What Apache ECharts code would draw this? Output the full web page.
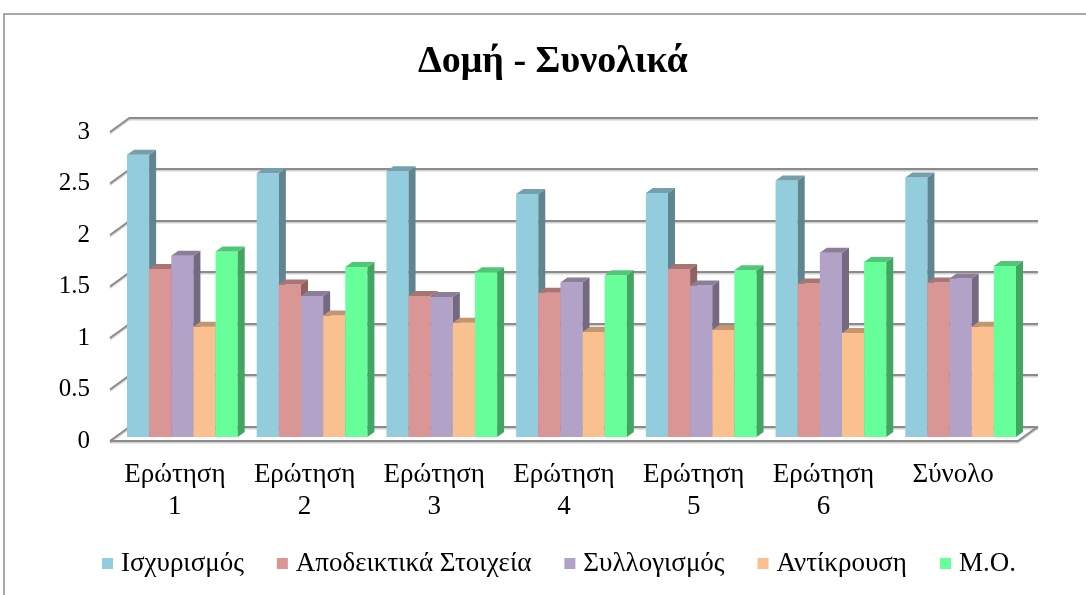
<!DOCTYPE html>
<html>
<head>
<meta charset="utf-8">
<script src="https://cdn.jsdelivr.net/npm/echarts@6/dist/echarts.min.js"></script>
<style>
  html, body { margin: 0; padding: 0; background: #fff; }
  #chart { width: 1086px; height: 595px; }
</style>
</head>
<body>
<div id="chart"></div>
<script>
// Categories and series values
const categories = ['Ερώτηση\n1', 'Ερώτηση\n2', 'Ερώτηση\n3', 'Ερώτηση\n4', 'Ερώτηση\n5', 'Ερώτηση\n6', 'Σύνολο'];
const seriesNames = ['Ισχυρισμός', 'Αποδεικτικά Στοιχεία', 'Συλλογισμός', 'Αντίκρουση', 'Μ.Ο.'];
const claim     = [2.74, 2.56, 2.58, 2.36, 2.37, 2.49, 2.52];
const evidence  = [1.63, 1.48, 1.37, 1.40, 1.63, 1.49, 1.50];
const reasoning = [1.76, 1.37, 1.36, 1.50, 1.47, 1.79, 1.54];
const rebuttal  = [1.07, 1.18, 1.11, 1.02, 1.04, 1.01, 1.07];
const average   = [1.80, 1.65, 1.60, 1.57, 1.62, 1.70, 1.66];
const yTicks    = [0, 0.5, 1, 1.5, 2, 2.5, 3];

const seriesValues = [claim, evidence, reasoning, rebuttal, average];
const frontColors = ['#93CDDD', '#D99694', '#B3A2C7', '#FAC090', '#66FF99'];

// depth of the floor / back wall relative to the front plane
const WALL_DX = 20, WALL_DY = -14.5;
// bar front plane sits a little behind the front edge of the floor
const BAR_DY = -4;
// depth of each 3D column
const COL_DX = 7, COL_DY = -5;

function shade(hex, k) {
  const n = parseInt(hex.slice(1), 16);
  const r = Math.round(((n >> 16) & 255) * k);
  const g = Math.round(((n >> 8) & 255) * k);
  const b = Math.round((n & 255) * k);
  return 'rgb(' + r + ',' + g + ',' + b + ')';
}

const FONT = '"Liberation Serif", "Times New Roman", serif';

function columnSeries(idx) {
  const base = frontColors[idx];
  return {
    name: seriesNames[idx],
    type: 'custom',
    xAxisIndex: 0,
    yAxisIndex: 0,
    itemStyle: { color: base },
    data: seriesValues[idx].map((v, i) => [i, v]),
    renderItem: function (params, api) {
      const ci = api.value(0);
      const v = api.value(1);
      const band = api.size([1, 0])[0];
      const center = api.coord([ci, 0]);
      const top = api.coord([ci, v]);
      const w = band * 0.1707;
      const x0 = center[0] - band * 0.5 + band * 0.131 + idx * w;
      const x1 = x0 + w;
      const yb = center[1] + BAR_DY;
      const yt = top[1] + BAR_DY;
      return {
        type: 'group',
        children: [
          { type: 'polygon', shape: { points: [[x0, yb], [x1, yb], [x1, yt], [x0, yt]] },
            style: { fill: base } },
          { type: 'polygon', shape: { points: [[x1, yb], [x1 + COL_DX, yb + COL_DY], [x1 + COL_DX, yt + COL_DY], [x1, yt]] },
            style: { fill: shade(base, 0.65) } },
          { type: 'polygon', shape: { points: [[x0, yt], [x1, yt], [x1 + COL_DX, yt + COL_DY], [x0 + COL_DX, yt + COL_DY]] },
            style: { fill: shade(base, 0.78) } }
        ]
      };
    },
    z: 3
  };
}

const chart = echarts.init(document.getElementById('chart'), null, { renderer: 'canvas' });

const gridLineStyle = { color: '#8b8b8b', width: 2, shadowColor: 'rgba(0,0,0,0.18)', shadowOffsetY: 1.5, shadowBlur: 0 };

const option = {
  animation: false,
  backgroundColor: '#fff',
  color: frontColors,
  title: {
    text: 'Δομή - Συνολικά',
    left: 413,
    top: 38,
    textStyle: { fontFamily: FONT, fontWeight: 'bold', fontSize: 38, color: '#000' }
  },
  legend: {
    data: seriesNames,
    bottom: 13,
    left: 97,
    icon: 'rect',
    itemWidth: 11,
    itemHeight: 11,
    itemGap: 33,
    textStyle: { fontFamily: FONT, fontSize: 27, color: '#000', padding: [0, 0, 0, 3] }
  },
  graphic: [
    { type: 'rect', shape: { x: 4, y: 14, width: 1200, height: 700 },
      style: { fill: 'none', stroke: '#8c8c8c', lineWidth: 1.5 }, silent: true, z: -10 }
  ],
  grid: [
    // front plane of the floor: axis labels and bars
    { left: 110, right: 68, top: 132, bottom: 154 },
    // back wall of the plot: gridlines
    { left: 110 + WALL_DX, right: 68 - WALL_DX, top: 132 + WALL_DY, bottom: 154 - WALL_DY }
  ],
  xAxis: [
    { type: 'category', gridIndex: 0, data: categories,
      axisLine: { show: false }, axisTick: { show: false },
      axisLabel: { fontFamily: FONT, fontSize: 27, color: '#000', margin: 18, lineHeight: 32, interval: 0 } },
    { type: 'category', gridIndex: 1, data: categories, show: false }
  ],
  yAxis: [
    { type: 'value', gridIndex: 0, min: 0, max: 3, interval: 0.5,
      axisLine: { show: false }, axisTick: { show: false }, splitLine: { show: false },
      axisLabel: { fontFamily: FONT, fontSize: 25, color: '#000', margin: 20 } },
    { type: 'value', gridIndex: 1, min: 0, max: 3, interval: 0.5,
      axisLine: { show: false }, axisTick: { show: false }, axisLabel: { show: false },
      splitLine: { show: true, lineStyle: gridLineStyle } }
  ],
  series: [
    // diagonal ticks joining the value axis to the back wall
    {
      type: 'custom', xAxisIndex: 0, yAxisIndex: 0, silent: true, z: 1,
      data: yTicks.map(v => [0, v]),
      renderItem: function (params, api) {
        const left = params.coordSys.x;
        const p = api.coord([0, api.value(1)]);
        return { type: 'line',
          shape: { x1: left, y1: p[1], x2: left + WALL_DX, y2: p[1] + WALL_DY },
          style: { stroke: '#8b8b8b', lineWidth: 2, shadowColor: 'rgba(0,0,0,0.18)', shadowOffsetY: 1.5 } };
      }
    },
    // floor outline
    {
      type: 'custom', xAxisIndex: 0, yAxisIndex: 0, silent: true, z: 1,
      data: [[0, 0]],
      renderItem: function (params, api) {
        const cs = params.coordSys;
        const y0 = api.coord([0, 0])[1];
        const xl = cs.x, xr = cs.x + cs.width;
        return { type: 'polyline',
          shape: { points: [[xl, y0], [xr, y0], [xr + WALL_DX, y0 + WALL_DY]] },
          style: { stroke: '#8b8b8b', lineWidth: 2, fill: 'none', shadowColor: 'rgba(0,0,0,0.18)', shadowOffsetY: 1.5 } };
      }
    },
    columnSeries(0),
    columnSeries(1),
    columnSeries(2),
    columnSeries(3),
    columnSeries(4)
  ]
};

chart.setOption(option);
</script>
</body>
</html>
